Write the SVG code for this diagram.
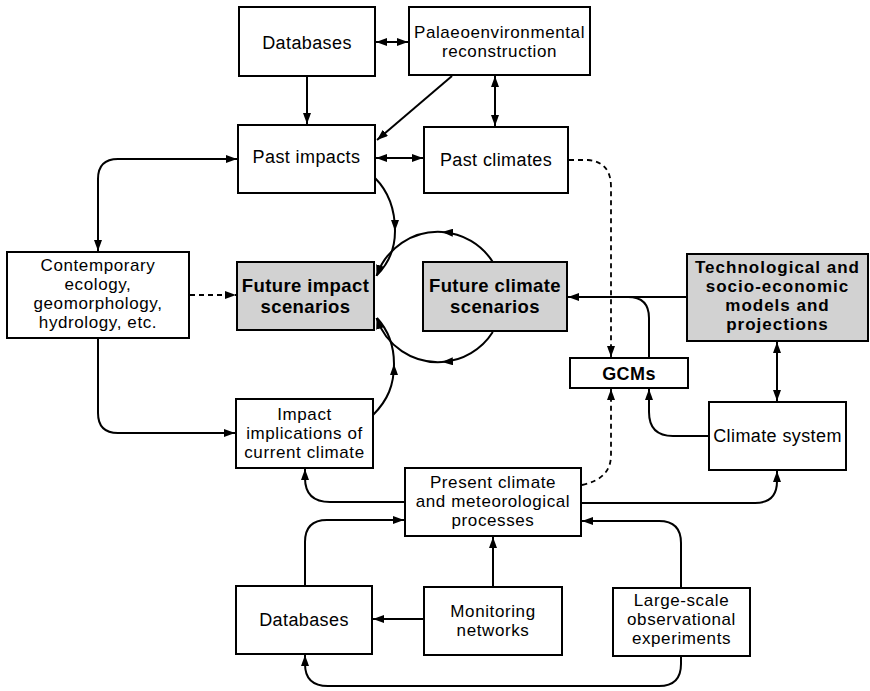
<svg xmlns="http://www.w3.org/2000/svg" width="870" height="691" viewBox="0 0 870 691">
<style>
.box{fill:#fff;stroke:#000;stroke-width:2}
.shade{fill:#d2d2d2;stroke:#000;stroke-width:2}
.t{font-family:"Liberation Sans",Arial,sans-serif;font-size:18px;letter-spacing:0.4px;text-anchor:middle;fill:#000}
.m{font-family:"Liberation Sans",Arial,sans-serif;font-size:17px;letter-spacing:0.6px;text-anchor:middle;fill:#000}
.b{font-family:"Liberation Sans",Arial,sans-serif;font-size:18.5px;letter-spacing:0.4px;font-weight:bold;text-anchor:middle;fill:#000}
.bm{font-family:"Liberation Sans",Arial,sans-serif;font-size:17px;letter-spacing:1px;font-weight:bold;text-anchor:middle;fill:#000}
.c{fill:none;stroke:#000;stroke-width:2}
.d{fill:none;stroke:#000;stroke-width:1.8;stroke-dasharray:5 4}
.e{marker-end:url(#ah)}
.s{marker-start:url(#ah)}
</style>
<defs>
<marker id="ah" markerUnits="userSpaceOnUse" markerWidth="11" markerHeight="8" refX="11" refY="4" orient="auto-start-reverse">
<path d="M0,0 L11,4 L0,8 z" fill="#000"/>
</marker>
</defs>
<rect width="870" height="691" fill="#fff"/>

<g id="connectors">
<path class="c s e" d="M376,42 L408,42"/>
<path class="c e" d="M307,76 L307,124"/>
<path class="c e" d="M452,76 L377,140"/>
<path class="c s e" d="M495,76 L495,126"/>
<path class="c s e" d="M376,158 L423,158"/>
<path class="c s e" d="M237,159 L118,159 Q98,159 98,179 L98,251"/>
<path class="c e" d="M98,338 L98,413 Q98,433 118,433 L235,433"/>
<path class="d e" d="M190,295 L236,295"/>
<path class="d e" d="M569,160 L588,160 Q611,162 611,187 L611,357"/>
<path class="d e" d="M582,485 Q611,479 611,455 L611,389"/>
<path class="c e" d="M687,297 L568,297"/>
<path class="c" d="M649,358 L649,318 Q649,297 628,297"/>
<path class="c e" d="M709,436 L673,436 Q649,436 649,412 L649,389"/>
<path class="c s e" d="M777,342 L777,401"/>
<path class="c e" d="M405,502 L330,502 Q305,502 305,478 L305,469"/>
<path class="c e" d="M581,503 L755,503 Q777,503 777,481 L777,471"/>
<path class="c e" d="M305,586 L305,542 Q305,520 327,520 L404,520"/>
<path class="c e" d="M493,587 L493,537"/>
<path class="c e" d="M424,619 L373,619"/>
<path class="c e" d="M681,588 L681,543 Q681,521 659,521 L582,521"/>
<path class="c e" d="M681,656 L681,664 Q681,686 659,686 L328,686 Q305,686 305,664 L305,655"/>
<path class="c e" d="M375,178 C389,192 395,210 395,231"/>
<path class="c" d="M395,231 C395,250 388,264 377,275"/>
<path class="c e" d="M373,415 C388,400 394,385 394,364"/>
<path class="c" d="M394,364 C394,346 388,330 377,318"/>
<path class="c e" d="M492.8,262 A65,65 0 0 0 442,232"/>
<path class="c e" d="M442,232 A65,65 0 0 0 376.5,276"/>
<path class="c e" d="M492.8,332 A65,65 0 0 1 442,362"/>
<path class="c e" d="M442,362 A65,65 0 0 1 376.5,318"/>
</g>

<g id="databases-top"><rect class="box" x="239" y="7" width="136" height="69"/><text class="t" x="307" y="49">Databases</text></g>
<g id="palaeo"><rect class="box" x="409" y="7" width="181" height="68"/><text class="m" x="499.5" y="38">Palaeoenvironmental</text><text class="m" x="499.5" y="57">reconstruction</text></g>
<g id="past-impacts"><rect class="box" x="238" y="125" width="137" height="68"/><text class="t" x="306.5" y="163">Past impacts</text></g>
<g id="past-climates"><rect class="box" x="424" y="127" width="144" height="66"/><text class="t" x="496" y="166">Past climates</text></g>
<g id="contemporary"><rect class="box" x="7" y="252" width="182" height="86"/><text class="m" x="98" y="270.5">Contemporary</text><text class="m" x="98" y="289.5">ecology,</text><text class="m" x="98" y="308.5">geomorphology,</text><text class="m" x="98" y="327.5">hydrology, etc.</text></g>
<g id="future-impact"><rect class="shade" x="237" y="262" width="137" height="68"/><text class="b" x="305.5" y="291.5">Future impact</text><text class="b" x="305.5" y="312.5">scenarios</text></g>
<g id="future-climate"><rect class="shade" x="423" y="262" width="144" height="69"/><text class="b" x="495" y="291.5">Future climate</text><text class="b" x="495" y="312.5">scenarios</text></g>
<g id="technological"><rect class="shade" x="687" y="254" width="181" height="87"/><text class="bm" x="777.5" y="273.3">Technological and</text><text class="bm" x="777.5" y="292.3">socio-economic</text><text class="bm" x="777.5" y="311.3">models and</text><text class="bm" x="777.5" y="330.3">projections</text></g>
<g id="gcms"><rect class="box" x="570" y="358" width="118" height="30"/><text class="b" x="629" y="380" style="font-size:18px">GCMs</text></g>
<g id="climate-system"><rect class="box" x="709" y="402" width="137" height="68"/><text class="t" x="777.5" y="442">Climate system</text></g>
<g id="impact-implications"><rect class="box" x="236" y="399" width="137" height="69"/><text class="m" x="304.5" y="420">Impact</text><text class="m" x="304.5" y="439">implications of</text><text class="m" x="304.5" y="458">current climate</text></g>
<g id="present-climate"><rect class="box" x="405" y="468" width="176" height="68"/><text class="m" x="493" y="488">Present climate</text><text class="m" x="493" y="507">and meteorological</text><text class="m" x="493" y="526">processes</text></g>
<g id="databases-bottom"><rect class="box" x="236" y="586" width="136" height="68"/><text class="t" x="304" y="626">Databases</text></g>
<g id="monitoring"><rect class="box" x="424" y="587" width="138" height="68"/><text class="m" x="493" y="616.5">Monitoring</text><text class="m" x="493" y="635.5">networks</text></g>
<g id="large-scale"><rect class="box" x="613" y="588" width="137" height="68"/><text class="m" x="681.5" y="606">Large-scale</text><text class="m" x="681.5" y="625">observational</text><text class="m" x="681.5" y="644">experiments</text></g>
</svg>
